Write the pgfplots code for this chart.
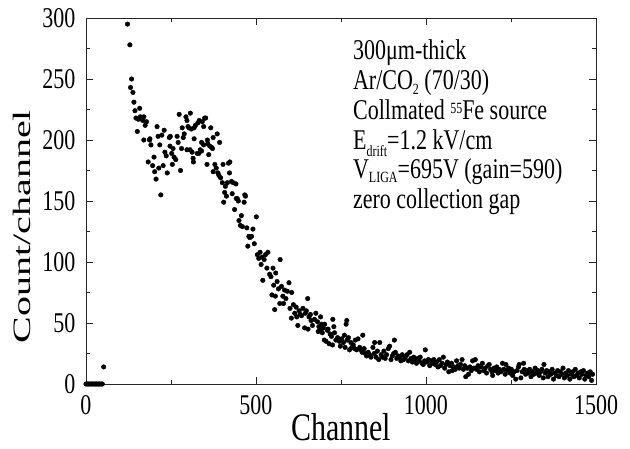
\documentclass[border=0pt]{standalone}
\usepackage{fontspec}
\setmainfont{Liberation Serif}
\usepackage{pgfplots}
\pgfplotsset{compat=1.18}
\newcommand{\sy}[1]{\scalebox{1}[1.3]{#1}}
\newcommand{\sub}[2]{\raisebox{#1}{\fontsize{12}{12}\selectfont #2}}
\begin{document}
\begin{tikzpicture}
\path[use as bounding box] (-86pt,-64pt) rectangle (544pt,384pt);
\begin{axis}[
  at={(0,0)}, anchor=south west,
  scale only axis, width=510pt, height=366pt,
  xmin=0, xmax=1500, ymin=0, ymax=300,
  xtick={0,500,1000,1500}, ytick={0,50,...,300},
  minor x tick num=1, minor y tick num=1,
  tick align=inside, major tick length=7pt, minor tick length=4pt,
  axis line style={line width=0.9pt, black!85},
  every tick/.style={line width=0.9pt, black!85},
  /pgf/number format/assume math mode=true,
  /pgf/number format/1000 sep={},
  tick label style={font=\fontsize{22}{22}\selectfont},
  xticklabel={\sy{\pgfmathprintnumber{\tick}}},
  yticklabel={\sy{\pgfmathprintnumber{\tick}}},
  xticklabel style={yshift=-8pt},
  yticklabel style={xshift=-7pt},
  xlabel={\sy{Channel}},
  xlabel style={font=\fontsize{30}{30}\selectfont, at={([yshift=-56pt]rel axis cs:0.5,0)}, anchor=base},
  ylabel={\scalebox{1.6}[1]{Count/channel}},
  ylabel style={font=\fontsize{25}{25}\selectfont, at={([xshift=-55pt]rel axis cs:0,0.43)}, anchor=base},
]
\addplot[only marks, mark=*, mark size=2.3pt, black] table {
x y
0 0
4 0
8 0
12 0
16 0
20 0
24 0
28 0
32 0
36 0
40 0
44 0
48 0
52 14
122 295
129 278
131 243
134 250
138 239
141 231
144 224
147 218
151 207
154 217
158 226
160 219
164 218
167 216
170 200
170 219
174 212
178 215
183 182
187 200
188 201
191 196
196 179
200 186
202 174
206 168
209 211
212 203
214 177
217 196
220 155
223 204
227 179
230 208
232 190
236 187
239 173
245 202
247 195
248 203
252 189
254 180
256 193
259 186
264 184
268 203
271 198
274 221
278 175
281 193
283 210
286 202
289 205
294 219
297 216
297 192
300 211
303 210
306 192
307 222
310 209
312 190
315 185
316 182
318 201
318 210
322 212
327 189
329 214
332 189
333 216
336 192
340 198
340 191
342 215
346 211
346 196
349 218
352 218
356 180
357 200
358 197
361 188
364 195
367 210
369 194
372 193
374 202
374 174
379 180
383 177
386 205
388 173
391 171
393 198
396 169
401 165
403 180
405 149
408 157
410 162
413 154
416 165
419 181
422 173
423 182
428 166
430 156
433 165
437 143
441 164
442 152
445 152
448 150
450 134
454 130
457 138
460 129
465 149
467 155
469 154
473 128
476 113
479 121
482 120
487 121
491 127
495 115
501 137
504 106
508 103
512 108
515 98
518 104
520 85
524 102
528 106
532 95
535 108
540 90
544 88
547 73
550 95
552 81
555 61
557 72
558 91
562 84
566 78
570 66
571 102
575 80
579 72
581 66
584 77
588 70
592 76
597 83
600 62
604 54
605 75
610 65
614 58
618 63
620 55
623 48
627 60
630 57
634 56
638 62
643 46
645 58
648 60
652 70
653 45
656 55
660 57
662 52
666 48
672 53
676 58
681 51
683 43
685 47
690 55
691 44
693 49
695 42
698 46
701 36
702 49
706 35
710 44
712 45
715 33
718 41
722 39
725 32
726 53
729 47
731 42
735 36
740 38
745 35
748 31
752 37
757 34
760 40
762 30
765 49
767 52
768 36
772 38
775 28
779 34
782 30
786 32
790 29
792 36
796 28
800 37
805 30
809 28
812 26
814 40
818 29
822 25
825 23
830 26
834 24
838 22
844 30
848 25
849 34
853 22
857 27
861 20
864 34
868 24
872 22
876 27
880 21
884 24
889 29
893 31
897 20
901 23
905 25
907 36
910 26
914 21
918 23
922 22
926 19
930 24
934 20
939 22
944 24
948 19
952 26
956 21
960 18
964 22
968 20
972 17
976 21
980 19
983 22
988 17
992 16
996 19
998 28
1003 18
1007 20
1011 15
1015 19
1019 17
1023 20
1027 16
1031 18
1035 14
1039 20
1043 15
1047 17
1051 22
1055 13
1059 16
1063 18
1067 10
1071 15
1075 17
1077 11
1082 14
1086 12
1090 19
1094 15
1098 13
1102 16
1106 20
1110 12
1114 15
1117 6
1121 13
1125 8
1129 14
1133 11
1137 19
1141 13
1145 20
1149 12
1153 15
1157 10
1161 14
1166 17
1170 11
1174 13
1178 9
1182 15
1186 16
1190 12
1194 10
1196 7
1200 13
1204 11
1208 14
1212 9
1216 12
1220 10
1225 17
1229 12
1233 8
1235 16
1239 11
1243 13
1247 9
1251 12
1255 7
1259 10
1264 4
1268 11
1272 14
1274 16
1279 5
1283 10
1287 17
1289 12
1293 8
1297 11
1301 9
1305 12
1309 6
1313 10
1317 8
1321 13
1325 9
1329 11
1333 7
1337 10
1341 12
1345 5
1347 16
1351 9
1355 11
1359 6
1363 10
1367 8
1371 12
1375 4
1379 9
1383 7
1387 11
1391 6
1395 10
1399 8
1403 13
1407 5
1411 9
1415 7
1419 11
1423 4
1427 8
1431 10
1435 6
1439 12
1443 7
1447 9
1451 5
1455 10
1459 8
1463 11
1467 4
1471 7
1475 9
1479 6
1483 10
1487 3
1490 8
};
\begin{scope}[every node/.style={anchor=base west, inner sep=0pt, font=\fontsize{22}{22}\selectfont}]
\node at (axis cs:785,265.6) {\sy{300μm-thick}};
\node at (axis cs:785,241.4) {\sy{Ar/CO\sub{-4pt}{2} (70/30)}};
\node at (axis cs:785,216.8) {\sy{Collmated \sub{5pt}{55}Fe source}};
\node at (axis cs:785,192.2) {\sy{E\sub{-5pt}{drift}=1.2 kV/cm}};
\node at (axis cs:785,168.5) {\sy{V\sub{-3.5pt}{LIGA}=695V (gain=590)}};
\node at (axis cs:785,144.0) {\sy{zero collection gap}};
\end{scope}
\end{axis}
\end{tikzpicture}
\end{document}
